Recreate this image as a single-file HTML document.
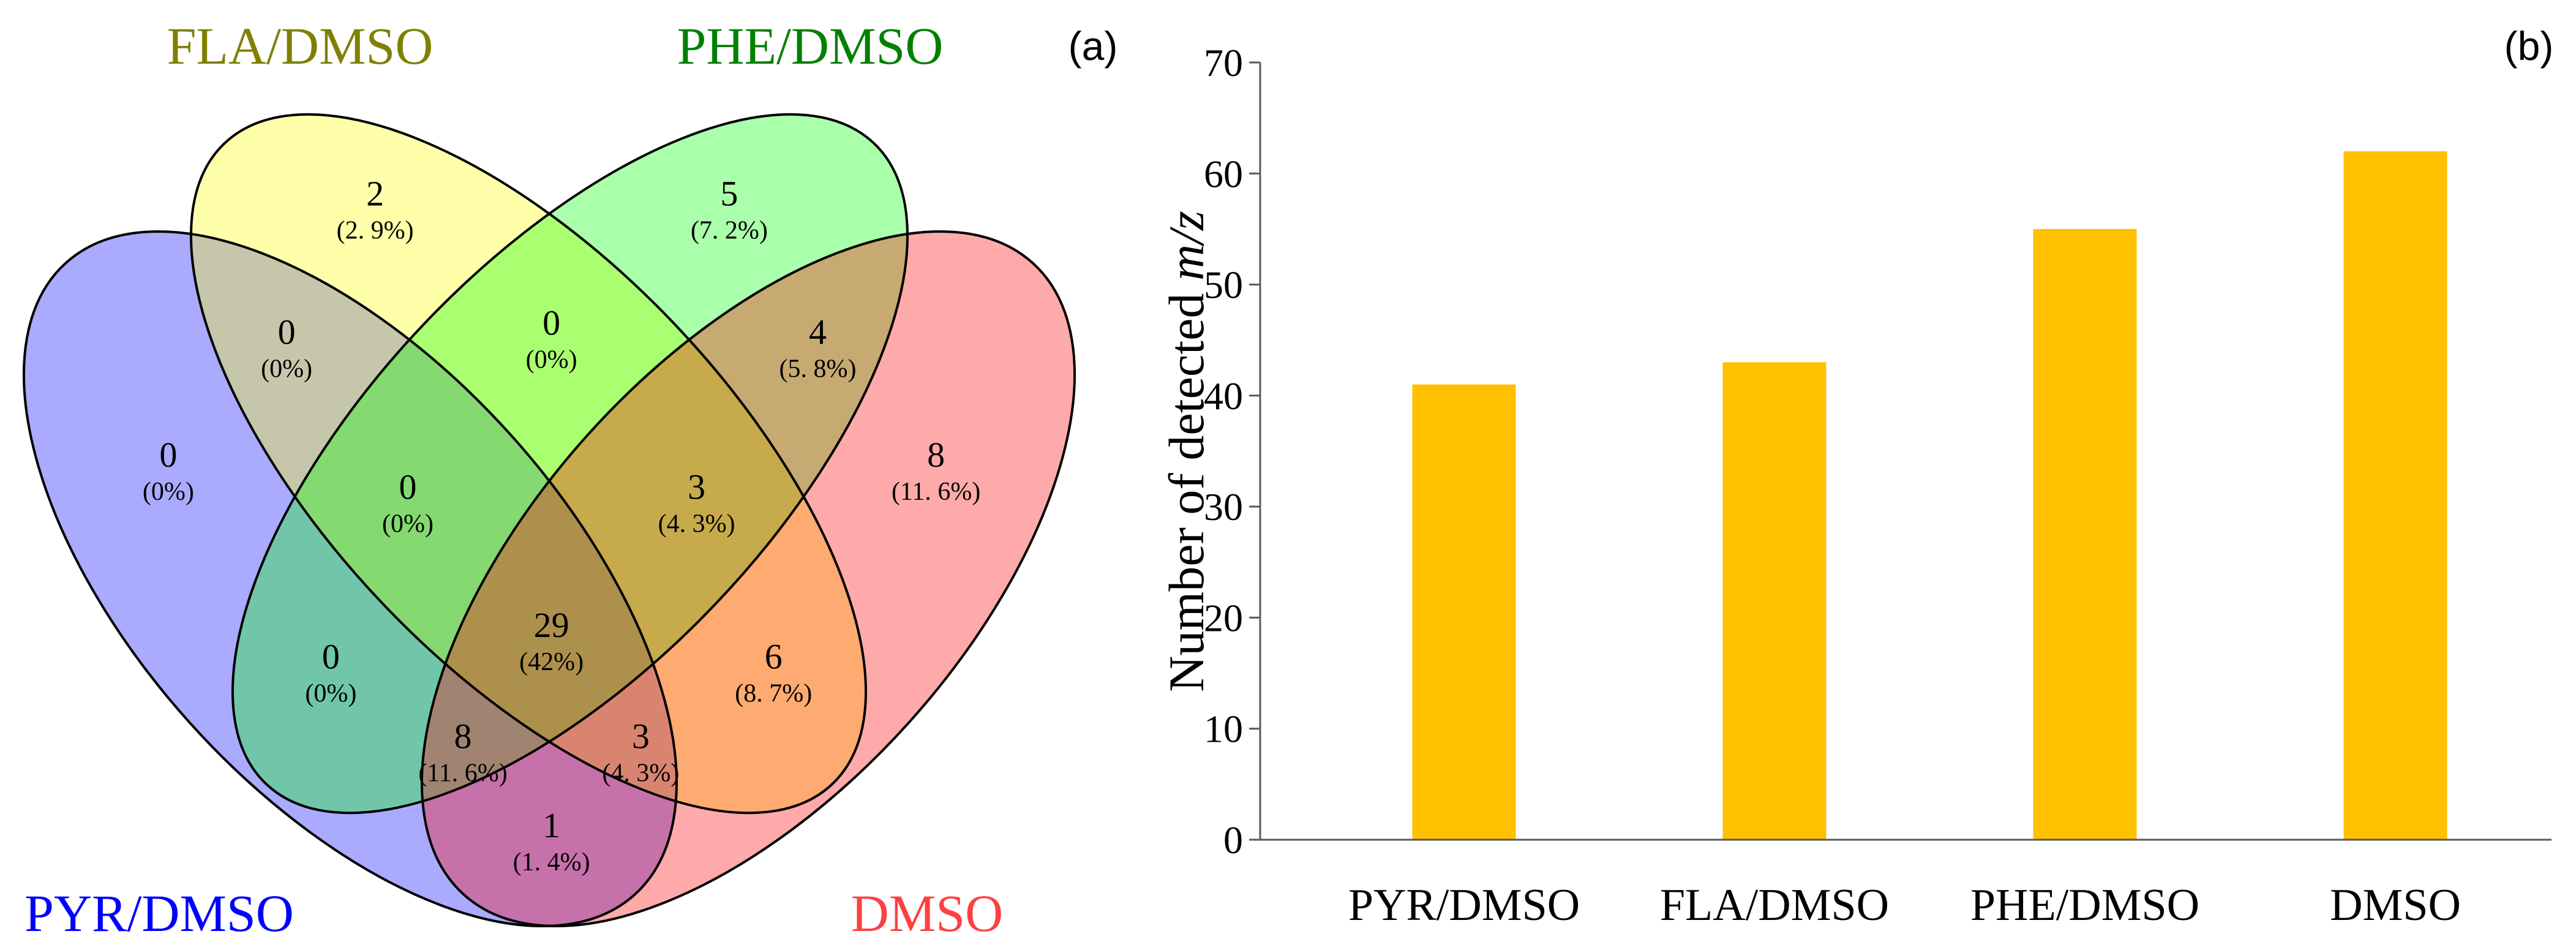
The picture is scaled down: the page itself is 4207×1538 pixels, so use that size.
<!DOCTYPE html>
<html><head><meta charset="utf-8"><style>
html,body{margin:0;padding:0;background:#fff;overflow:hidden;width:4207px;height:1538px;}
svg{display:block;overflow:hidden;}
</style></head><body>
<svg id="root" width="4207" height="1538" viewBox="0 0 4207 1538" xmlns="http://www.w3.org/2000/svg">
<g id="venn"></g>
<g id="bars"></g>
</svg>
<script>
// ---------- Venn data ----------
const vennSets = ["PYR/DMSO","FLA/DMSO","PHE/DMSO","DMSO"];
const vennColors = ["#0000ff","#ffff00","#00ff00","#ff0000"];
const vennCounts = ["2","5","0","0","4","0","0","3","8","29","0","6","8","3","1"];
const vennPercents = ["(2. 9%)","(7. 2%)","(0%)","(0%)","(5. 8%)","(0%)","(0%)","(4. 3%)","(11. 6%)","(42%)","(0%)","(8. 7%)","(11. 6%)","(4. 3%)","(1. 4%)"];
// ---------- Bar data ----------
const categories = ["PYR/DMSO","FLA/DMSO","PHE/DMSO","DMSO"];
const values = [41,43,55,62];
const yTicks = [0,10,20,30,40,50,60,70];

const NS="http://www.w3.org/2000/svg";
function mk(tag, attrs, parent, text){
  const e=document.createElementNS(NS,tag);
  for(const k in attrs) e.setAttribute(k,attrs[k]);
  if(text!==undefined) e.textContent=text;
  parent.appendChild(e); return e;
}
const venn=document.getElementById('venn');
// ellipse geometry in pixels: cx, cy, rx, ry, rotation
const ells=[[572,945,694,352,48],[863,757,721,330,46.5],[931,757,721,330,-46.5],[1222,945,694,352,-48]];
ells.forEach((g,i)=>{
  const e=mk('ellipse',{cx:0,cy:0,rx:g[2],ry:g[3],transform:`translate(${g[0]},${g[1]}) rotate(${g[4]})`,fill:vennColors[i],'fill-opacity':0.335,stroke:'none'},venn);
  
  
});
ells.forEach((g,i)=>{
  const e=mk('ellipse',{cx:0,cy:0,rx:g[2],ry:g[3],transform:`translate(${g[0]},${g[1]}) rotate(${g[4]})`,fill:'none',stroke:'#000','stroke-width':4},venn);
  
  
});
const zx=[517,1005,395,760,1127,232,562,960,1290,760,456,1066,638,883,760];
const zy=[320,320,548,533,548,750,803,803,750,1030,1082,1082,1213,1213,1360];
vennCounts.forEach((c,i)=>{
  const x=zx[i]*1.185, y=zy[i]*0.992;
  const t=mk('text',{x:x,y:y+18,'text-anchor':'middle','font-family':'"Liberation Serif",serif','font-size':58,fill:'#000'},venn,c);
  
  
  const p=mk('text',{x:x,y:y+72,'text-anchor':'middle','font-family':'"Liberation Serif",serif','font-size':42,fill:'#000'},venn,vennPercents[i]);
  
  
});
const setPos=[[260,1520],[490,104],[1323,104],[1514,1520]];
const setCol=["#0000ff","#808000","#008000","#ff4040"];
vennSets.forEach((s,i)=>{
  const t=mk('text',{x:setPos[i][0],y:setPos[i][1],'text-anchor':'middle','font-family':'"Liberation Serif",serif','font-size':86,fill:setCol[i]},venn,s);
  
  
});
const pa=mk('text',{x:1785,y:98,'text-anchor':'middle','font-family':'"Liberation Sans",sans-serif','font-size':66,fill:'#000'},venn,'(a)');



// ---------- Bar chart ----------
const bars=document.getElementById('bars');
const axX=2058, axR=4167, yBase=1371, yTop=102, yMax=70;
const yScale=v=>yBase-(v/yMax)*(yBase-yTop);
const xCenter=i=>2391+i*507;
const bw=169;
values.forEach((v,i)=>{
  const r=mk('rect',{x:xCenter(i)-bw/2,y:yScale(v),width:bw,height:yBase-yScale(v),fill:'#ffc000'},bars);
  
  
  const t=mk('text',{x:xCenter(i),y:1502,'text-anchor':'middle','font-family':'"Liberation Serif",serif','font-size':74,fill:'#000'},bars,categories[i]);
  
  
});
const ya=mk('line',{x1:axX,y1:yTop,x2:axX,y2:yBase,stroke:'#595959','stroke-width':3},bars);


const xa=mk('line',{x1:axX-18,y1:yBase,x2:axR,y2:yBase,stroke:'#595959','stroke-width':3},bars);


yTicks.forEach(v=>{
  const y=yScale(v);
  const l=mk('line',{x1:axX-18,y1:y,x2:axX,y2:y,stroke:'#595959','stroke-width':3},bars);
  
  
  const t=mk('text',{x:axX-28,y:y+22,'text-anchor':'end','font-family':'"Liberation Serif",serif','font-size':64,fill:'#000'},bars,String(v));
  
  
});
const yt=mk('text',{x:0,y:0,transform:'translate(1965,737) rotate(-90)','text-anchor':'middle','font-family':'"Liberation Serif",serif','font-size':82,fill:'#000'},bars);


mk('tspan',{},yt,'Number of detected ');
mk('tspan',{'font-style':'italic'},yt,'m/z');
const pb=mk('text',{x:4130,y:98,'text-anchor':'middle','font-family':'"Liberation Sans",sans-serif','font-size':66,fill:'#000'},bars,'(b)');


</script>
</body></html>
